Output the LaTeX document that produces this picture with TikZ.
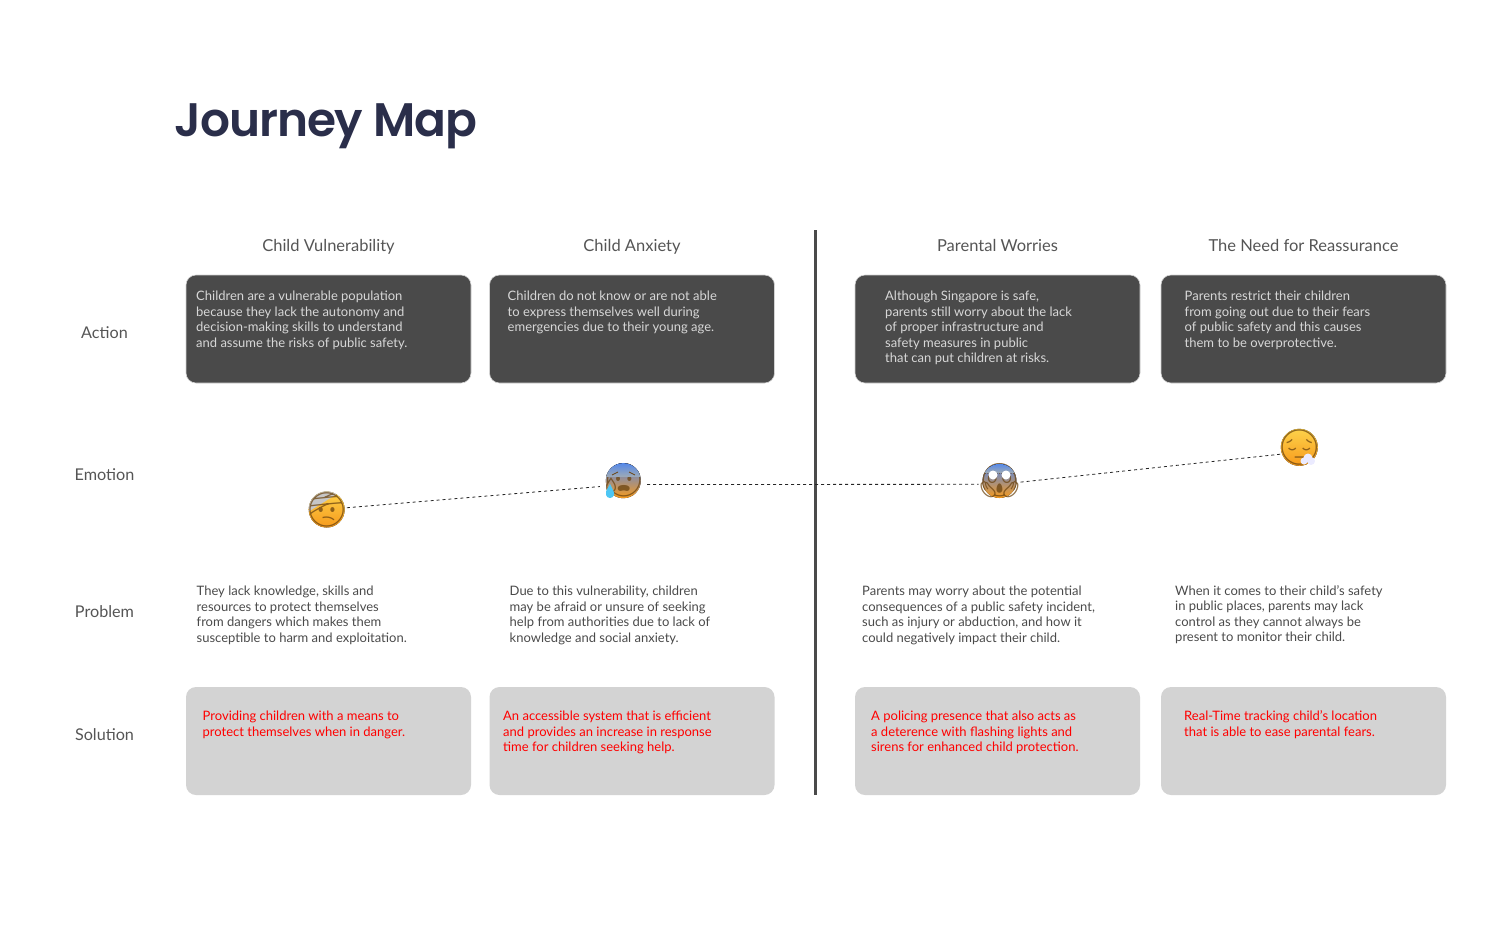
\documentclass[tikz,border=0pt]{standalone}
\usepackage{fontspec}
\setmainfont{Lato}
\newfontfamily\titlefont[LetterSpace=-2.4]{Poppins SemiBold}
\newfontfamily\emojifont{Noto Emoji}
\definecolor{ink}{HTML}{2A2E4A}
\definecolor{slate}{HTML}{4A4A4A}
\definecolor{pale}{HTML}{D3D3D3}
\definecolor{label}{HTML}{555555}
\definecolor{smile}{HTML}{FDD24A}
\definecolor{smiledark}{HTML}{F79A1C}
\definecolor{fearblue}{HTML}{4F86EE}
\definecolor{fearmid}{HTML}{9AA8B8}
\definecolor{glyphline}{HTML}{6B4410}
\tikzset{
  darkbox/.style={draw=pale,fill=slate,rounded corners=10pt,line width=.6pt,minimum width=285pt,minimum height=108pt,inner sep=0pt},
  palebox/.style={fill=pale,rounded corners=10pt,minimum width=285pt,minimum height=108pt,inner sep=0pt},
  rowlabel/.style={text=label,anchor=base,font=\fontsize{16.2}{18}\selectfont,inner sep=0pt},
  para/.style={anchor=north west,align=left,inner sep=0pt,font=\fontsize{13}{15.5}\selectfont,execute at begin node=\strut},
  emoji/.style={circle,inner sep=0pt,minimum size=#1},
  glyph/.style={inner sep=0pt,text=glyphline,font=\emojifont\fontsize{#1}{#1}\selectfont},
  calm/.style={top color=smile,bottom color=smiledark},
  fear/.style={top color=fearblue,middle color=smile,bottom color=smiledark},
  veil/.style={top color=fearblue,bottom color=fearmid},
  trail/.style={dashed,line width=.8pt,black!85}
}
\begin{document}
\begin{tikzpicture}[x=1pt,y=-1pt]
\useasboundingbox (0,0) rectangle (1510,946);
\node[anchor=base west,inner sep=0pt,text=ink,font=\titlefont\fontsize{47}{47}\selectfont] (title) at (174.5,136) {Journey Map};
% headings
\foreach \n/\x/\t in {1/328.5/Child Vulnerability,2/632/Child Anxiety,3/997.5/Parental Worries,4/1303.5/The Need for Reassurance}
{
\node[rowlabel,font=\fontsize{16.5}{18}\selectfont] (head\n) at (\x,251.5) {\t};
\node[darkbox] (act\n) at (\x,329) {};
\node[palebox] (sol\n) at (\x,741) {};
}
% row labels
\node[rowlabel] (action) at (104.5,338) {Action};
\node[rowlabel] (emotion) at (104.5,480) {Emotion};
\node[rowlabel] (problem) at (104.5,617) {Problem};
\node[rowlabel] (solution) at (104.5,740) {Solution};
% divider
\coordinate (top) at (815,230);
\coordinate (bot) at (815,795);
\draw[slate,line width=3pt] (top) -- (bot);
% action texts
\begin{scope}[every node/.append style={para,text=pale!90!white}]
\node (acttext1) at (196,291) {Children are a vulnerable population\\because they lack the autonomy and\\decision-making skills to understand\\and assume the risks of public safety.};
\node (acttext2) at (507.5,291) {Children do not know or are not able\\to express themselves well during\\emergencies due to their young age.};
\node (acttext3) at (885,291) {Although Singapore is safe,\\parents still worry about the lack\\of proper infrastructure and\\safety measures in public\\that can put children at risks.};
\node (acttext4) at (1184.5,291) {Parents restrict their children\\from going out due to their fears\\of public safety and this causes\\them to be overprotective.};
\end{scope}
% problem texts
\begin{scope}[every node/.append style={para,text=slate}]
\node (probtext1) at (196.5,586) {They lack knowledge, skills and\\resources to protect themselves\\from dangers which makes them\\susceptible to harm and exploitation.};
\node (probtext2) at (509.5,586) {Due to this vulnerability, children\\may be afraid or unsure of seeking\\help from authorities due to lack of\\knowledge and social anxiety.};
\node (probtext3) at (862,586) {Parents may worry about the potential\\consequences of a public safety incident,\\such as injury or abduction, and how it\\could negatively impact their child.};
\node (probtext4) at (1175,585) {When it comes to their child's safety\\in public places, parents may lack\\control as they cannot always be\\present to monitor their child.};
\end{scope}
% solution texts
\begin{scope}[every node/.append style={para,text=red}]
\node (soltext1) at (202.5,711) {Providing children with a means to\\protect themselves when in danger.};
\node (soltext2) at (503,711) {An accessible system that is efficient\\and provides an increase in response\\time for children seeking help.};
\node (soltext3) at (871,711) {A policing presence that also acts as\\a deterence with flashing lights and\\sirens for enhanced child protection.};
\node (soltext4) at (1184,710.5) {Real-Time tracking child's location\\that is able to ease parental fears.};
\end{scope}
% emotion line
\node[emoji=40pt] (hurt) at (326.7,509.5) {};
\node[emoji=48pt] (sweat) at (623.3,480.7) {};
\node[emoji=42pt] (scream) at (999.5,481) {};
\node[emoji=40pt] (sigh) at (1299.3,447.3) {};
\draw[trail] (hurt.5) -- (sweat.194);
\draw[trail] (sweat.-9) -- (scream.189.6);
\draw[trail] (scream.-3) -- (sigh.200);
% faces
\fill[calm] (hurt) circle (18);
\begin{scope}
\clip (hurt) circle (18);
\fill[pale!85!gray] (308,512) -- (345,489) -- (345,485) -- (308,485) -- cycle;
\end{scope}
\node[glyph=34,text opacity=.75] at (hurt) {🤕};
\fill[fear] (sweat) circle (17.5);
\node[glyph=33,text opacity=.75] at (sweat) {😰};
\begin{scope}
\clip (sweat) circle (17.6);
\fill[veil] (605,462) rectangle (642,476);
\end{scope}
\draw[glyphline,line width=.8pt] (612,475) -- (618,472) (629,472) -- (635,475);
\fill[cyan!70!white] (610,484) .. controls (606,491) and (605,493) .. (606,495) .. controls (607,499) and (613,499) .. (614,495) .. controls (615,493) and (613,490) .. (610,484);
\fill[fear] (scream) circle (17);
\node[glyph=33,text opacity=.75] at (scream) {😱};
\begin{scope}
\clip (scream) circle (17.1);
\fill[veil] (982,463) rectangle (1017,472);
\end{scope}
\fill[white] (993,475) circle (4.5) (1006,475) circle (4.5);
\fill[calm] (sigh) circle (18.5);
\node[glyph=35,text opacity=.75] at (sigh) {😔};
\fill[blue!8!white] (1308,458) circle (4.5) (1304,461) circle (3.5) (1311,461) circle (4);
\end{tikzpicture}
\end{document}
